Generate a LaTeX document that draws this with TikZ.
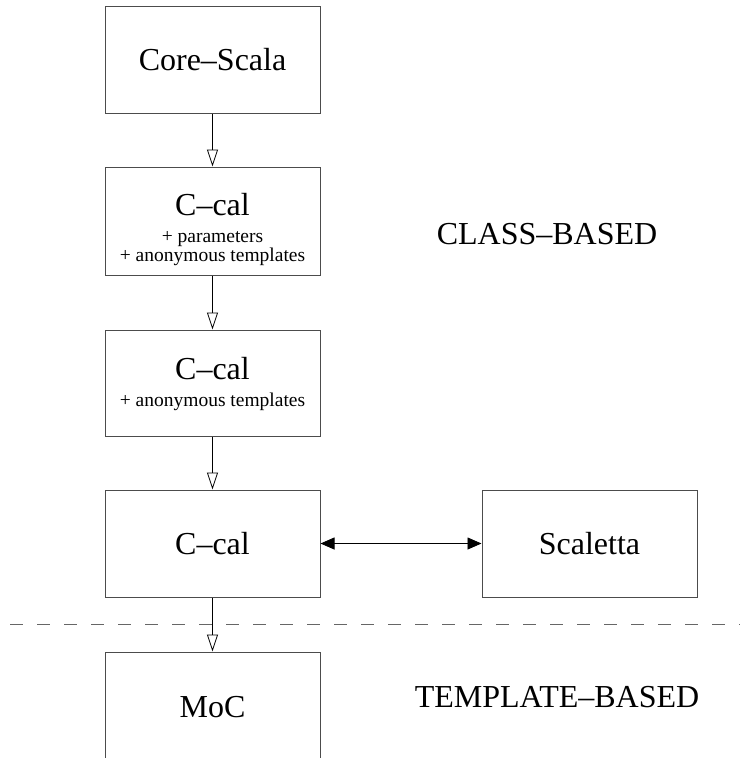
\documentclass[tikz,border=0pt]{standalone}
\usepackage{fontspec}
\setmainfont{Liberation Serif}
\usetikzlibrary{arrows.meta}
\begin{document}
\begin{tikzpicture}[x=1pt,y=-1pt,
  box/.style={draw=black!70, line width=1pt, minimum width=215pt, minimum height=107pt, inner sep=0pt, align=center, font=\fontsize{32}{36}\selectfont},
  bigtext/.style={inner sep=0pt, anchor=base, font=\fontsize{32}{36}\selectfont},
  smalltext/.style={inner sep=0pt, anchor=base, font=\fontsize{19.5}{22}\selectfont},
  gen/.style={-{Triangle[open,length=17pt,width=11pt]}, line width=0.8pt},
  assoc/.style={{Triangle[length=14pt,width=12pt]}-{Triangle[length=14pt,width=12pt]}, line width=0.8pt},
  sep/.style={draw=black!60, line width=1pt, dash pattern=on 13pt off 14pt}
]
\useasboundingbox (0,0) rectangle (740,758);
% boxes
\node[box] (core) at (212.5,59.5) {Core--Scala};
\node[box, minimum height=108pt] (c1) at (212.5,221) {};
\node[bigtext] (c1t) at (212.5,215) {C--cal};
\node[smalltext] (c1a) at (212.5,242) {+ parameters};
\node[smalltext] (c1b) at (212.5,261) {+ anonymous templates};
\node[box, minimum height=106pt] (c2) at (212.5,383) {};
\node[bigtext] (c2t) at (212.5,379.5) {C--cal};
\node[smalltext] (c2a) at (212.5,406) {+ anonymous templates};
\node[box] (c3) at (212.5,543.5) {C--cal};
\node[box] (sc) at (589.5,543.5) {Scaletta};
\node[box, minimum height=110pt] (moc) at (212.5,707) {MoC};
% labels
\node[bigtext] (cls) at (547,244) {CLASS--BASED};
\node[bigtext] (tpl) at (557,707) {TEMPLATE--BASED};
% connectors
\draw[gen] (core) -- (c1);
\draw[gen] (c1) -- (c2);
\draw[gen] (c2) -- (c3);
\draw[gen] (c3) -- (moc);
\draw[assoc] (c3) -- (sc);
% separator
\coordinate (sepL) at (10,624);
\coordinate (sepR) at (740,624);
\draw[sep] (sepL) -- (sepR);
\end{tikzpicture}
\end{document}
